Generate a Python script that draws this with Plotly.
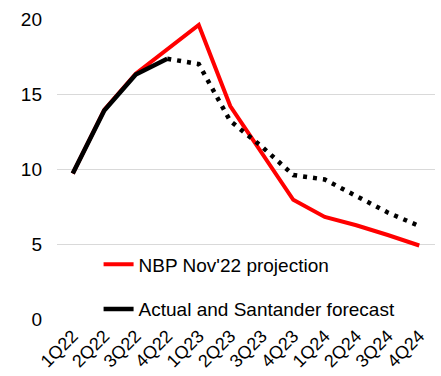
import plotly.graph_objects as go

quarters = ["1Q22", "2Q22", "3Q22", "4Q22", "1Q23", "2Q23", "3Q23", "4Q23",
            "1Q24", "2Q24", "3Q24", "4Q24"]
nbp_projection = [9.7, 13.95, 16.35, 18.0, 19.6, 14.2, 11.1, 7.95, 6.8, 6.25, 5.6, 4.9]
actual_quarters = ["1Q22", "2Q22", "3Q22", "4Q22"]
actual_values = [9.7, 13.9, 16.3, 17.35]
forecast_quarters = ["4Q22", "1Q23", "2Q23", "3Q23", "4Q23", "1Q24", "2Q24", "3Q24", "4Q24"]
forecast_values = [17.35, 17.0, 13.2, 11.5, 9.6, 9.3, 8.2, 7.1, 6.2]

fig = go.Figure()
fig.add_trace(go.Scatter(x=quarters, y=nbp_projection, mode="lines",
                         name="NBP Nov'22 projection", legendgroup="a",
                         line=dict(color="#ff0000", width=4)))
fig.add_trace(go.Scatter(x=actual_quarters, y=actual_values, mode="lines",
                         name="Actual and Santander forecast", legendgroup="b",
                         line=dict(color="#000000", width=4.5)))
fig.add_trace(go.Scatter(x=forecast_quarters, y=forecast_values, mode="lines",
                         showlegend=False,
                         line=dict(color="#000000", width=4.5, dash="4px,6px")))

fig.update_layout(
    width=441, height=376,
    margin=dict(l=57, r=6, t=19, b=57),
    paper_bgcolor="white", plot_bgcolor="white",
    font=dict(family="Liberation Sans, Arial, sans-serif", size=19, color="#000000"),
    showlegend=True,
    legend=dict(x=0.110, y=0.245, xanchor="left", yanchor="top",
                bgcolor="rgba(0,0,0,0)", tracegroupgap=17,
                font=dict(size=19)),
    xaxis=dict(type="category", categoryorder="array", categoryarray=quarters,
               range=[-0.5, 11.5], showgrid=False, showline=False, zeroline=False,
               tickangle=-45, ticks="", tickfont=dict(size=18), automargin=False,
               ticklabelstandoff=2),
    yaxis=dict(range=[0, 20], tickvals=[0, 5, 10, 15, 20], showgrid=True,
               gridcolor="#d9d9d9", gridwidth=1, zeroline=False, showline=False,
               ticks="", ticklabelstandoff=14, tickfont=dict(size=19), automargin=False),
)

fig.write_html("out.html", config={"displayModeBar": False},
               post_script="document.body.style.margin='0';document.body.style.overflow='hidden';")
